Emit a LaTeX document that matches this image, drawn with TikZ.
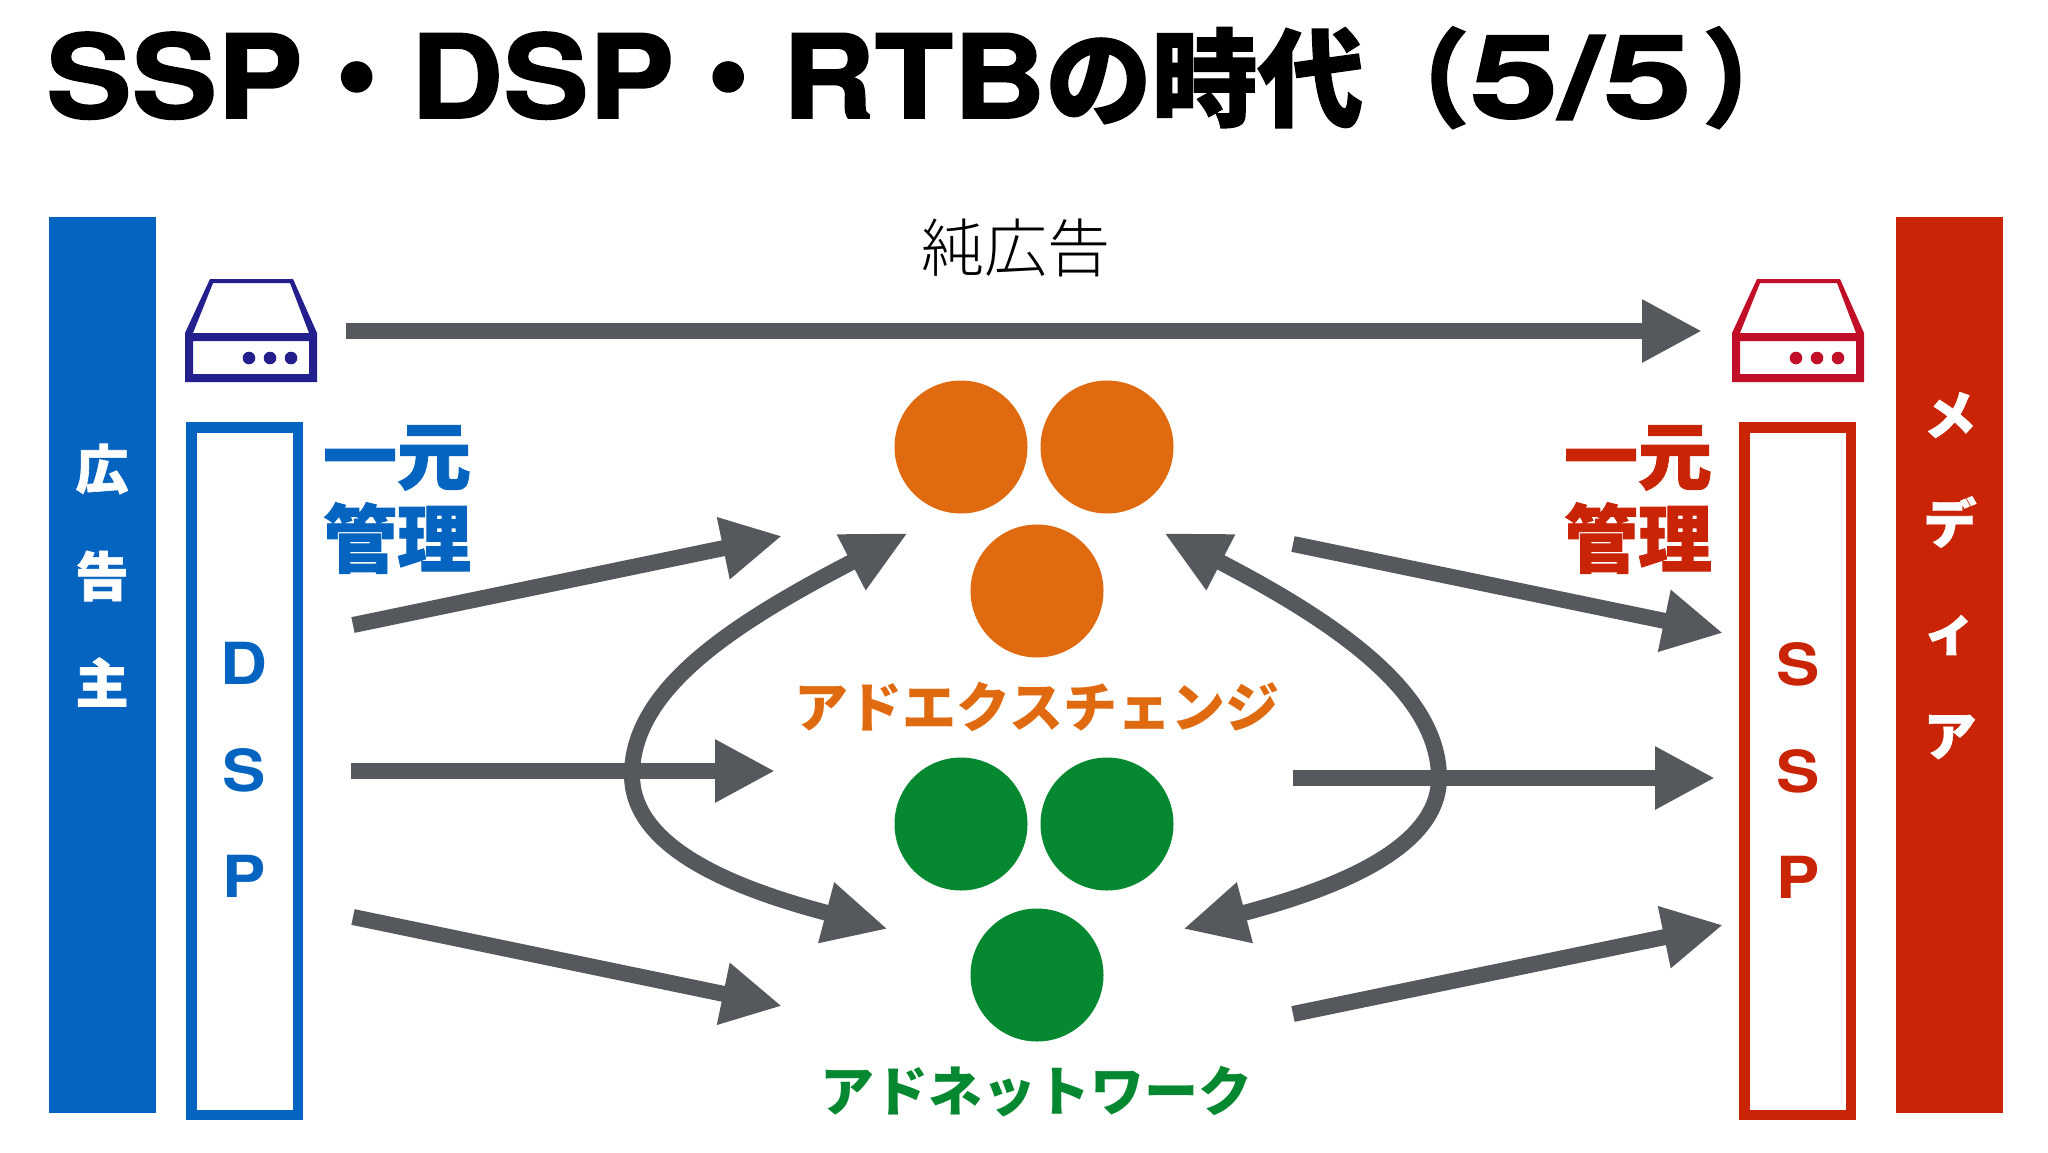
\documentclass[tikz,border=0pt]{standalone}
\usepackage{fontspec}
\setmainfont{TeX Gyre Heros}
\newfontfamily\jpfont{Noto Sans CJK JP}
\newfontfamily\jpheavy[BoldFeatures={FakeBold=1.2}]{Noto Sans CJK JP}
\newfontfamily\jpthin{Noto Sans CJK JP Light}
\newfontfamily\widefont[FakeStretch=1.12]{TeX Gyre Heros}
\newfontfamily\titlefont[FakeStretch=1.105, BoldFeatures={FakeBold=1.5}]{TeX Gyre Heros}
\newfontfamily\digitfont[FakeStretch=1.38, BoldFeatures={FakeBold=1.5}]{TeX Gyre Heros}
\usetikzlibrary{shapes, arrows.meta, positioning}
\definecolor{adblue}{HTML}{0564C0}
\definecolor{adred}{HTML}{C92405}
\definecolor{adorange}{HTML}{E06A10}
\definecolor{adgreen}{HTML}{05882F}
\definecolor{adgray}{HTML}{55585D}
\definecolor{srvblue}{HTML}{231F8C}
\definecolor{srvred}{HTML}{C20F28}
\newcommand{\titlejp}[1]{{\jpheavy\fontsize{106}{106}\selectfont #1}}
\newcommand{\titledot}{{\jpheavy\fontsize{108}{108}\selectfont ・}}

\begin{document}
\begin{tikzpicture}[x=1pt, y=-1pt]
    \tikzstyle{bar} = [rectangle, inner sep=0pt, minimum width=107pt, minimum height=896pt]
    \tikzstyle{frame} = [rectangle, draw, line width=10.5pt, inner sep=0pt, minimum width=106.5pt, minimum height=687.5pt]
    \tikzstyle{dot} = [circle, inner sep=0pt, minimum size=133pt]
    \tikzstyle{barlabel} = [white, inner sep=0pt, font=\jpheavy\bfseries\fontsize{53}{53}\selectfont]
    \tikzstyle{letter} = [inner sep=0pt, font=\widefont\bfseries\fontsize{58}{58}\selectfont]
    \tikzstyle{unify} = [inner sep=0pt, font=\jpheavy\bfseries\fontsize{74}{74}\selectfont]
    \tikzstyle{grouplabel} = [inner sep=0pt, font=\jpfont\bfseries\fontsize{54}{54}\selectfont]
    \tikzstyle{arrow} = [adgray, line width=16pt, -{Triangle[length=60pt,width=59pt]}]
    \tikzstyle{bothways} = [adgray, line width=16pt, {Triangle[length=64pt,width=58pt]}-{Triangle[length=64pt,width=58pt]}]

    \useasboundingbox (0,0) rectangle (2048,1152);

    % Title
    \node (title) [anchor=base west, inner sep=0pt, font=\fontsize{116}{116}\selectfont\bfseries] at (46,118)
      {\titlefont SSP\titledot\titlefont DSP\titledot\titlefont RTB\titlejp{の時代（}\digitfont 5/5\hspace{10pt}\titlejp{）}};

    % Bars and frames
    \node (advertiser) [bar, fill=adblue] at (102,665) {};
    \node (media) [bar, fill=adred] at (1949.5,665) {};
    \node (dsp) [frame, draw=adblue] at (244.5,771) {};
    \node (ssp) [frame, draw=adred] at (1797.5,771) {};

    % Bar labels
    \node (ad1) [barlabel] at (102,469) {広};
    \node (ad2) [barlabel] at (102,576) {告};
    \node (ad3) [barlabel] at (102,682) {主};
    \node (me1) [barlabel] at (1950,415) {メ};
    \node (me2) [barlabel] at (1950,522) {デ};
    \node (me3) [barlabel] at (1950,635) {ィ};
    \node (me4) [barlabel] at (1950,737) {ア};

    % Frame labels
    \node (dsp1) [letter, adblue] at (244,663) {D};
    \node (dsp2) [letter, adblue] at (244,770) {S};
    \node (dsp3) [letter, adblue] at (244,876) {P};
    \node (ssp1) [letter, adred] at (1798,664) {S};
    \node (ssp2) [letter, adred] at (1798,771) {S};
    \node (ssp3) [letter, adred] at (1798,877) {P};

    \node (left1) [unify, adblue] at (397,458) {一元};
    \node (left2) [unify, adblue] at (397,538) {管理};
    \node (right1) [unify, adred] at (1638,458) {一元};
    \node (right2) [unify, adred] at (1638,538) {管理};

    \node (pure) [inner sep=0pt, font=\jpthin\fontsize{63}{63}\selectfont] at (1016,248) {純広告};

    % Servers
    \foreach \dx/\col in {0/srvblue, 1547/srvred} {
      \begin{scope}[xshift=\dx pt]
        \fill [\col, even odd rule] (185,382) -- (185,333) -- (210,279) -- (293,279) -- (317,333) -- (317,382) -- cycle
          (193,333) -- (213,283) -- (290,283) -- (309,333) -- cycle
          (193,341) rectangle (309,374);
        \foreach \px in {249,270,291}
          \fill [\col] (\px,358) circle (6.3pt);
      \end{scope}
    }

    % Dots
    \node (ex1) [dot, fill=adorange] at (961,447) {};
    \node (ex2) [dot, fill=adorange] at (1107,447) {};
    \node (ex3) [dot, fill=adorange] at (1037,591) {};
    \node (nw1) [dot, fill=adgreen] at (961,824) {};
    \node (nw2) [dot, fill=adgreen] at (1107,824) {};
    \node (nw3) [dot, fill=adgreen] at (1037,975) {};

    \node (exlabel) [grouplabel, adorange] at (1037,707) {アドエクスチェンジ};
    \node (nwlabel) [grouplabel, adgreen] at (1036,1092) {アドネットワーク};

    % Arrow ends
    \coordinate (p0) at (346,331);
    \coordinate (q0) at (1702,331);
    \coordinate (a1) at (353,625);
    \coordinate (b1) at (782,536);
    \coordinate (a2) at (351,771);
    \coordinate (b2) at (775,771);
    \coordinate (a3) at (353,917);
    \coordinate (b3) at (782,1006);
    \coordinate (c1) at (1293,544);
    \coordinate (d1) at (1723,633);
    \coordinate (c2) at (1293,778);
    \coordinate (d2) at (1715,778);
    \coordinate (c3) at (1293,1014);
    \coordinate (d3) at (1723,925);
    \coordinate (lt) at (908,533);
    \coordinate (lm) at (632,775);
    \coordinate (lb) at (888,929);
    \coordinate (rt) at (1164,533);
    \coordinate (rm) at (1439,778);
    \coordinate (rb) at (1183,929);

    % Arrows
    \draw [arrow] (p0) -- (q0);
    \draw [arrow] (a1) -- (b1);
    \draw [arrow] (a2) -- (b2);
    \draw [arrow] (a3) -- (b3);
    \draw [arrow] (c1) -- (d1);
    \draw [arrow] (c2) -- (d2);
    \draw [arrow] (c3) -- (d3);
    \draw [bothways] (lt) .. controls (730,625) and (632,690) .. (lm) .. controls (632,850) and (740,890) .. (lb);
    \draw [bothways] (rt) .. controls (1342,625) and (1439,695) .. (rm) .. controls (1439,850) and (1331,890) .. (rb);
\end{tikzpicture}
\end{document}
